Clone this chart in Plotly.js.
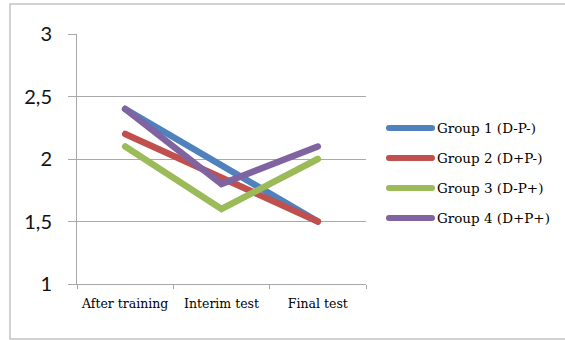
<!DOCTYPE html>
<html>
<head>
<meta charset="utf-8">
<script src="https://cdn.plot.ly/plotly-3.0.1.min.js"></script>
<style>
  html, body { margin: 0; padding: 0; background: #fff; }
  #chart { width: 565px; height: 340px; }
  /* rounded ends on the series lines and legend swatches */
  #chart .scatterlayer path.js-line { stroke-linecap: round; }
  #chart .shapelayer path { stroke-linecap: round; }
</style>
</head>
<body>
<div id="chart"></div>
<script>
// Test stages along the x axis
const stages = ['After training', 'Interim test', 'Final test'];

// Group names and their mean scores per stage
const groupNames = ['Group 1 (D-P-)', 'Group 2 (D+P-)', 'Group 3 (D-P+)', 'Group 4 (D+P+)'];
const group1 = [2.4, 1.95, 1.5];
const group2 = [2.2, 1.85, 1.5];
const group3 = [2.1, 1.6, 2.0];
const group4 = [2.4, 1.8, 2.1];
const groupValues = [group1, group2, group3, group4];

// Y axis ticks
const yTicks = [1, 1.5, 2, 2.5, 3];

const colors = ['#4F81BD', '#C0504D', '#9BBB59', '#8064A2'];

// Plot area in pixels
const W = 565, H = 340;
const plotL = 77, plotR = 366, plotT = 34, plotB = 284;
const px = x => (x - plotL) / (plotR - plotL);
const py = y => (plotB - y) / (plotB - plotT);

const traces = groupValues.map((vals, i) => ({
  type: 'scatter',
  mode: 'lines',
  x: stages,
  y: vals,
  name: groupNames[i],
  line: { color: colors[i], width: 6.5 },
  showlegend: false,
  cliponaxis: false,
  hoverinfo: 'x+y+name'
}));

// Hand-built legend: thick line swatch + label for each group
const shapes = [];
const annotations = [];
const legendTop = 128, legendStep = 30;
groupNames.forEach((name, i) => {
  const yy = py(legendTop + i * legendStep);
  shapes.push({
    type: 'line', xref: 'paper', yref: 'paper',
    x0: px(389), x1: px(432), y0: yy, y1: yy,
    line: { color: colors[i], width: 6 }
  });
  annotations.push({
    xref: 'paper', yref: 'paper', x: px(435), y: yy,
    xanchor: 'left', yanchor: 'middle', showarrow: false,
    text: name,
    font: { family: 'DejaVu Serif', size: 13.5, color: '#000' }
  });
});

// Outer frame around the chart
shapes.push({
  type: 'rect', xref: 'paper', yref: 'paper',
  x0: px(10), x1: px(580), y0: py(4), y1: py(339),
  line: { color: '#c4c4c4', width: 1.5 },
  fillcolor: 'rgba(0,0,0,0)',
  layer: 'below'
});

const layout = {
  width: W, height: H,
  margin: { l: plotL, r: W - plotR, t: plotT, b: H - plotB, pad: 0 },
  paper_bgcolor: '#fff',
  plot_bgcolor: '#fff',
  separators: ', ',
  showlegend: false,
  xaxis: {
    type: 'category',
    range: [-0.5, 2.5],
    tickson: 'boundaries',
    tickangle: 0,
    ticks: 'outside', ticklen: 4, tickcolor: '#a8a8a8', tickwidth: 1,
    showgrid: false,
    showline: true, linecolor: '#a8a8a8', linewidth: 1,
    tickfont: { family: 'DejaVu Serif', size: 12.5, color: '#000' },
    ticklabelstandoff: 8,
    zeroline: false,
    fixedrange: true
  },
  yaxis: {
    range: [1, 3],
    tickvals: yTicks,
    ticks: 'outside', ticklen: 8, tickcolor: '#a8a8a8', tickwidth: 1,
    showgrid: true, gridcolor: '#a8a8a8', gridwidth: 1,
    showline: true, linecolor: '#a8a8a8', linewidth: 1,
    tickfont: { family: 'Lato', size: 20, color: '#111' },
    ticklabelstandoff: 12,
    zeroline: false,
    fixedrange: true
  },
  shapes: shapes,
  annotations: annotations
};

Plotly.newPlot('chart', traces, layout, { displayModeBar: false, staticPlot: true });
</script>
</body>
</html>
